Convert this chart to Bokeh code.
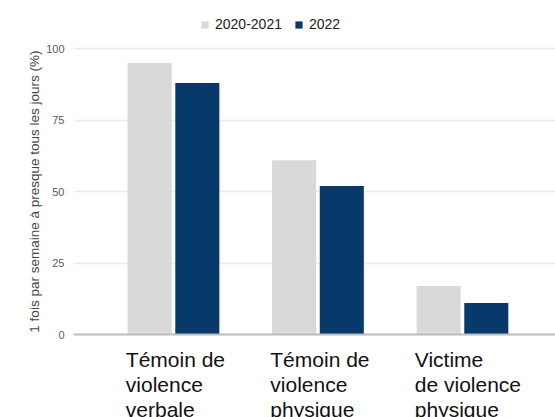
from bokeh.plotting import figure
from bokeh.models import (Range1d, FixedTicker, Span, Label, Legend, LegendItem,
                          ColumnDataSource, Title, LinearAxis)
from bokeh.transform import dodge
from bokeh.embed import file_html
from bokeh.resources import INLINE

# ---- data ----
categories = ["Témoin de violence verbale",
              "Témoin de violence physique",
              "Victime de violence physique"]
category_labels = ["Témoin de\nviolence\nverbale",
                   "Témoin de\nviolence\nphysique",
                   "Victime\nde violence\nphysique"]
series_names = ["2020-2021", "2022"]
values_2020_2021 = [95, 61, 17]
values_2022 = [88, 52, 11]
y_ticks = [0, 25, 50, 75, 100]
y_axis_title = "1 fois par semaine à presque tous les jours (%)"

FONT = "Liberation Sans"
LIGHT = "#d9d9d9"
DARK = "#073a6b"

xpos = list(range(len(categories)))
src = ColumnDataSource(dict(x=xpos, cat=categories,
                            v1=values_2020_2021, v2=values_2022))

p = figure(width=555, height=417, output_backend="svg", toolbar_location=None,
           x_range=Range1d(-0.692, 2.644), y_range=Range1d(-29.05, 116.9),
           min_border_left=73, min_border_right=0,
           min_border_top=0, min_border_bottom=0)
p.outline_line_color = None
p.background_fill_color = "white"
p.border_fill_color = "white"

r1 = p.vbar(x=dodge("x", -0.165, range=p.x_range), top="v1", bottom=0,
            width=0.305, source=src, fill_color=LIGHT, line_color=None)
r2 = p.vbar(x=dodge("x", 0.165, range=p.x_range), top="v2", bottom=0,
            width=0.305, source=src, fill_color=DARK, line_color=None)

# axes
p.xaxis.visible = False
p.xgrid.visible = False
p.yaxis.ticker = FixedTicker(ticks=y_ticks)
p.yaxis.axis_line_color = None
p.yaxis.major_tick_line_color = None
p.yaxis.minor_tick_line_color = None
p.yaxis.major_tick_out = 0
p.yaxis.major_label_standoff = 9
p.yaxis.major_label_text_font = FONT
p.yaxis.major_label_text_font_size = "11px"
p.yaxis.major_label_text_color = "#5a5a5a"
p.ygrid.grid_line_color = "#ebebeb"
p.ygrid.grid_line_width = 1.5

# empty spacer axis to push the axis title outward
spacer = LinearAxis(ticker=FixedTicker(ticks=[]), axis_line_color=None,
                    major_tick_line_color=None, minor_tick_line_color=None,
                    major_tick_in=0, major_tick_out=20, minor_tick_out=0,
                    major_label_standoff=0)
p.add_layout(spacer, "left")

# y axis title, placed along the value range
p.add_layout(Title(text=y_axis_title, align="right", offset=50, standoff=4,
                   text_font=FONT, text_font_size="13.5px",
                   text_font_style="normal", text_color="#444444"), "left")

p.add_layout(Span(location=0, dimension="width", line_color="#bdbdbd",
                  line_width=2))

# category labels (left aligned, multi-line)
for i, lab in enumerate(category_labels):
    p.add_layout(Label(x=xpos[i] - 0.33, y=-4.6, text=lab,
                       text_align="left", text_baseline="top",
                       text_font=FONT, text_font_size="21px",
                       text_color="#111111", text_line_height=1.1))

legend = Legend(items=[LegendItem(label=series_names[0], renderers=[r1]),
                       LegendItem(label=series_names[1], renderers=[r2])],
                location=(127, 385), orientation="horizontal",
                padding=0, margin=0, border_line_color=None,
                background_fill_alpha=0, glyph_width=9, glyph_height=9,
                label_standoff=6, spacing=12, label_height=9,
                label_text_font=FONT, label_text_font_size="14px",
                label_text_color="#222222")
p.add_layout(legend)

open("out.html", "w").write(file_html(p, INLINE))
